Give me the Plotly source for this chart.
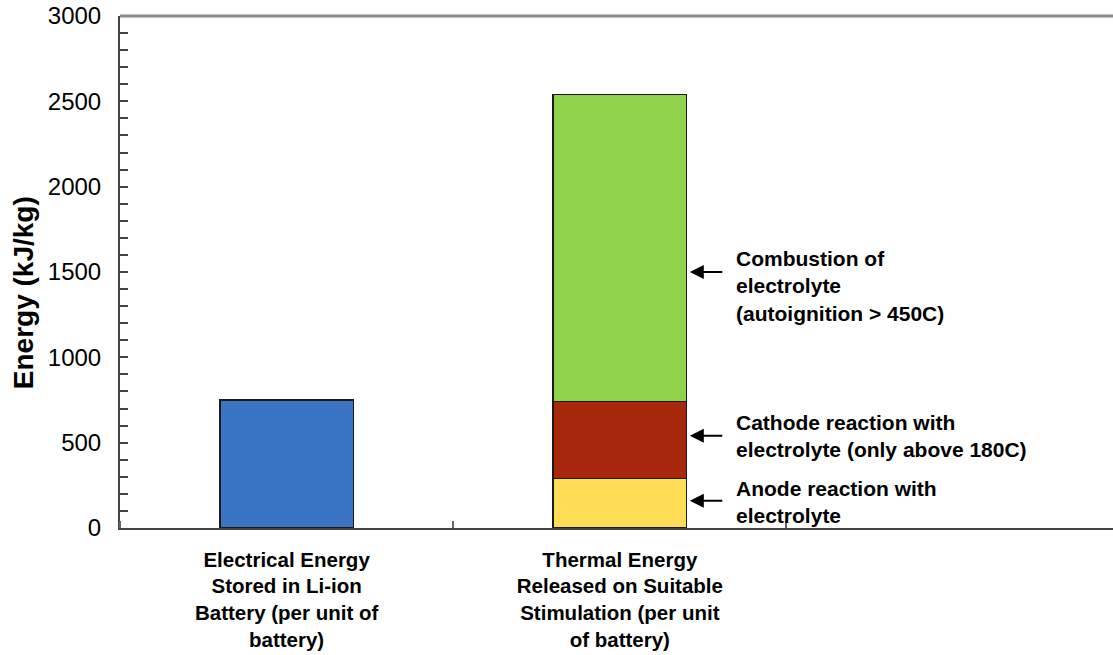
import plotly.graph_objects as go

# Categories and energy values (kJ/kg)
categories = [
    "Electrical Energy<br>Stored in Li-ion<br>Battery (per unit of<br>battery)",
    "Thermal Energy<br>Released on Suitable<br>Stimulation (per unit<br>of battery)",
]
electrical = [750, None]
anode = [None, 290]
cathode = [None, 450]
combustion = [None, 1800]

notes = [
    "Combustion of<br>electrolyte<br>(autoignition > 450C)",
    "Cathode reaction with<br>electrolyte (only above 180C)",
    "Anode reaction with<br>electrolyte",
]
note_arrow_y = [1500, 540, 160]
note_text_y = [1420, 540, 150]

FONT = "Arial, Liberation Sans, sans-serif"
xpos = [0, 1]
W = 0.4
edge = dict(color="#1a1a1a", width=1.5)

fig = go.Figure()
fig.add_bar(x=xpos, y=electrical, width=W, marker=dict(color="#3A74C4", line=edge))
fig.add_bar(x=xpos, y=anode, width=W, marker=dict(color="#FEDC56", line=edge))
fig.add_bar(x=xpos, y=cathode, width=W, marker=dict(color="#A8280D", line=edge))
fig.add_bar(x=xpos, y=combustion, width=W, marker=dict(color="#90D24A", line=edge))

for txt, ya, yt in zip(notes, note_arrow_y, note_text_y):
    fig.add_annotation(x=1 + W / 2 + 0.01, y=ya, ax=1.312, ay=ya, axref="x", ayref="y",
                       xref="x", yref="y", text="", showarrow=True,
                       arrowhead=2, arrowsize=1.4, arrowwidth=2, arrowcolor="#000")
    fig.add_annotation(x=1.342, y=yt, xref="x", yref="y", text=txt, showarrow=False,
                       xanchor="left", yanchor="middle", align="left",
                       font=dict(family=FONT, size=21, color="#000", weight="bold"))

# y-axis title
fig.add_annotation(x=-0.097, y=0.46, xref="paper", yref="paper", text="Energy (kJ/kg)",
                   textangle=-90, showarrow=False, xanchor="center", yanchor="middle",
                   font=dict(family=FONT, size=28, color="#000", weight="bold"))

# grey frame line across the top of the plot area
fig.add_shape(type="line", xref="paper", yref="paper", x0=0, x1=1, y0=1, y1=1,
              line=dict(color="#8a8a8a", width=3))

fig.update_layout(
    barmode="stack",
    width=1113, height=655,
    margin=dict(l=120, r=0, t=16, b=127),
    paper_bgcolor="white", plot_bgcolor="white",
    showlegend=False,
    font=dict(family=FONT, color="#000"),
)
fig.update_xaxes(
    range=[-0.5, 2.48],
    tickvals=xpos, ticktext=categories,
    ticks="", ticklen=0,
    ticklabelstandoff=12,
    tickfont=dict(family=FONT, size=20.5, color="#000", weight="bold"),
    showline=True, linecolor="#444", linewidth=2,
    showgrid=False, zeroline=False,
    minor=dict(tick0=0.5, dtick=1, ticks="inside", ticklen=7, tickcolor="#666",
               tickwidth=1.5, showgrid=False),
)
fig.update_yaxes(
    range=[0, 3000], dtick=500,
    ticks="inside", ticklen=8, tickwidth=1.5, tickcolor="#444",
    tickfont=dict(family=FONT, size=24, color="#000"),
    ticklabelstandoff=12,
    showline=True, linecolor="#444", linewidth=2,
    showgrid=False, zeroline=False,
    minor=dict(dtick=100, ticks="inside", ticklen=8, tickcolor="#444", tickwidth=1.5,
               showgrid=False),
)

fig.write_html("out.html")
